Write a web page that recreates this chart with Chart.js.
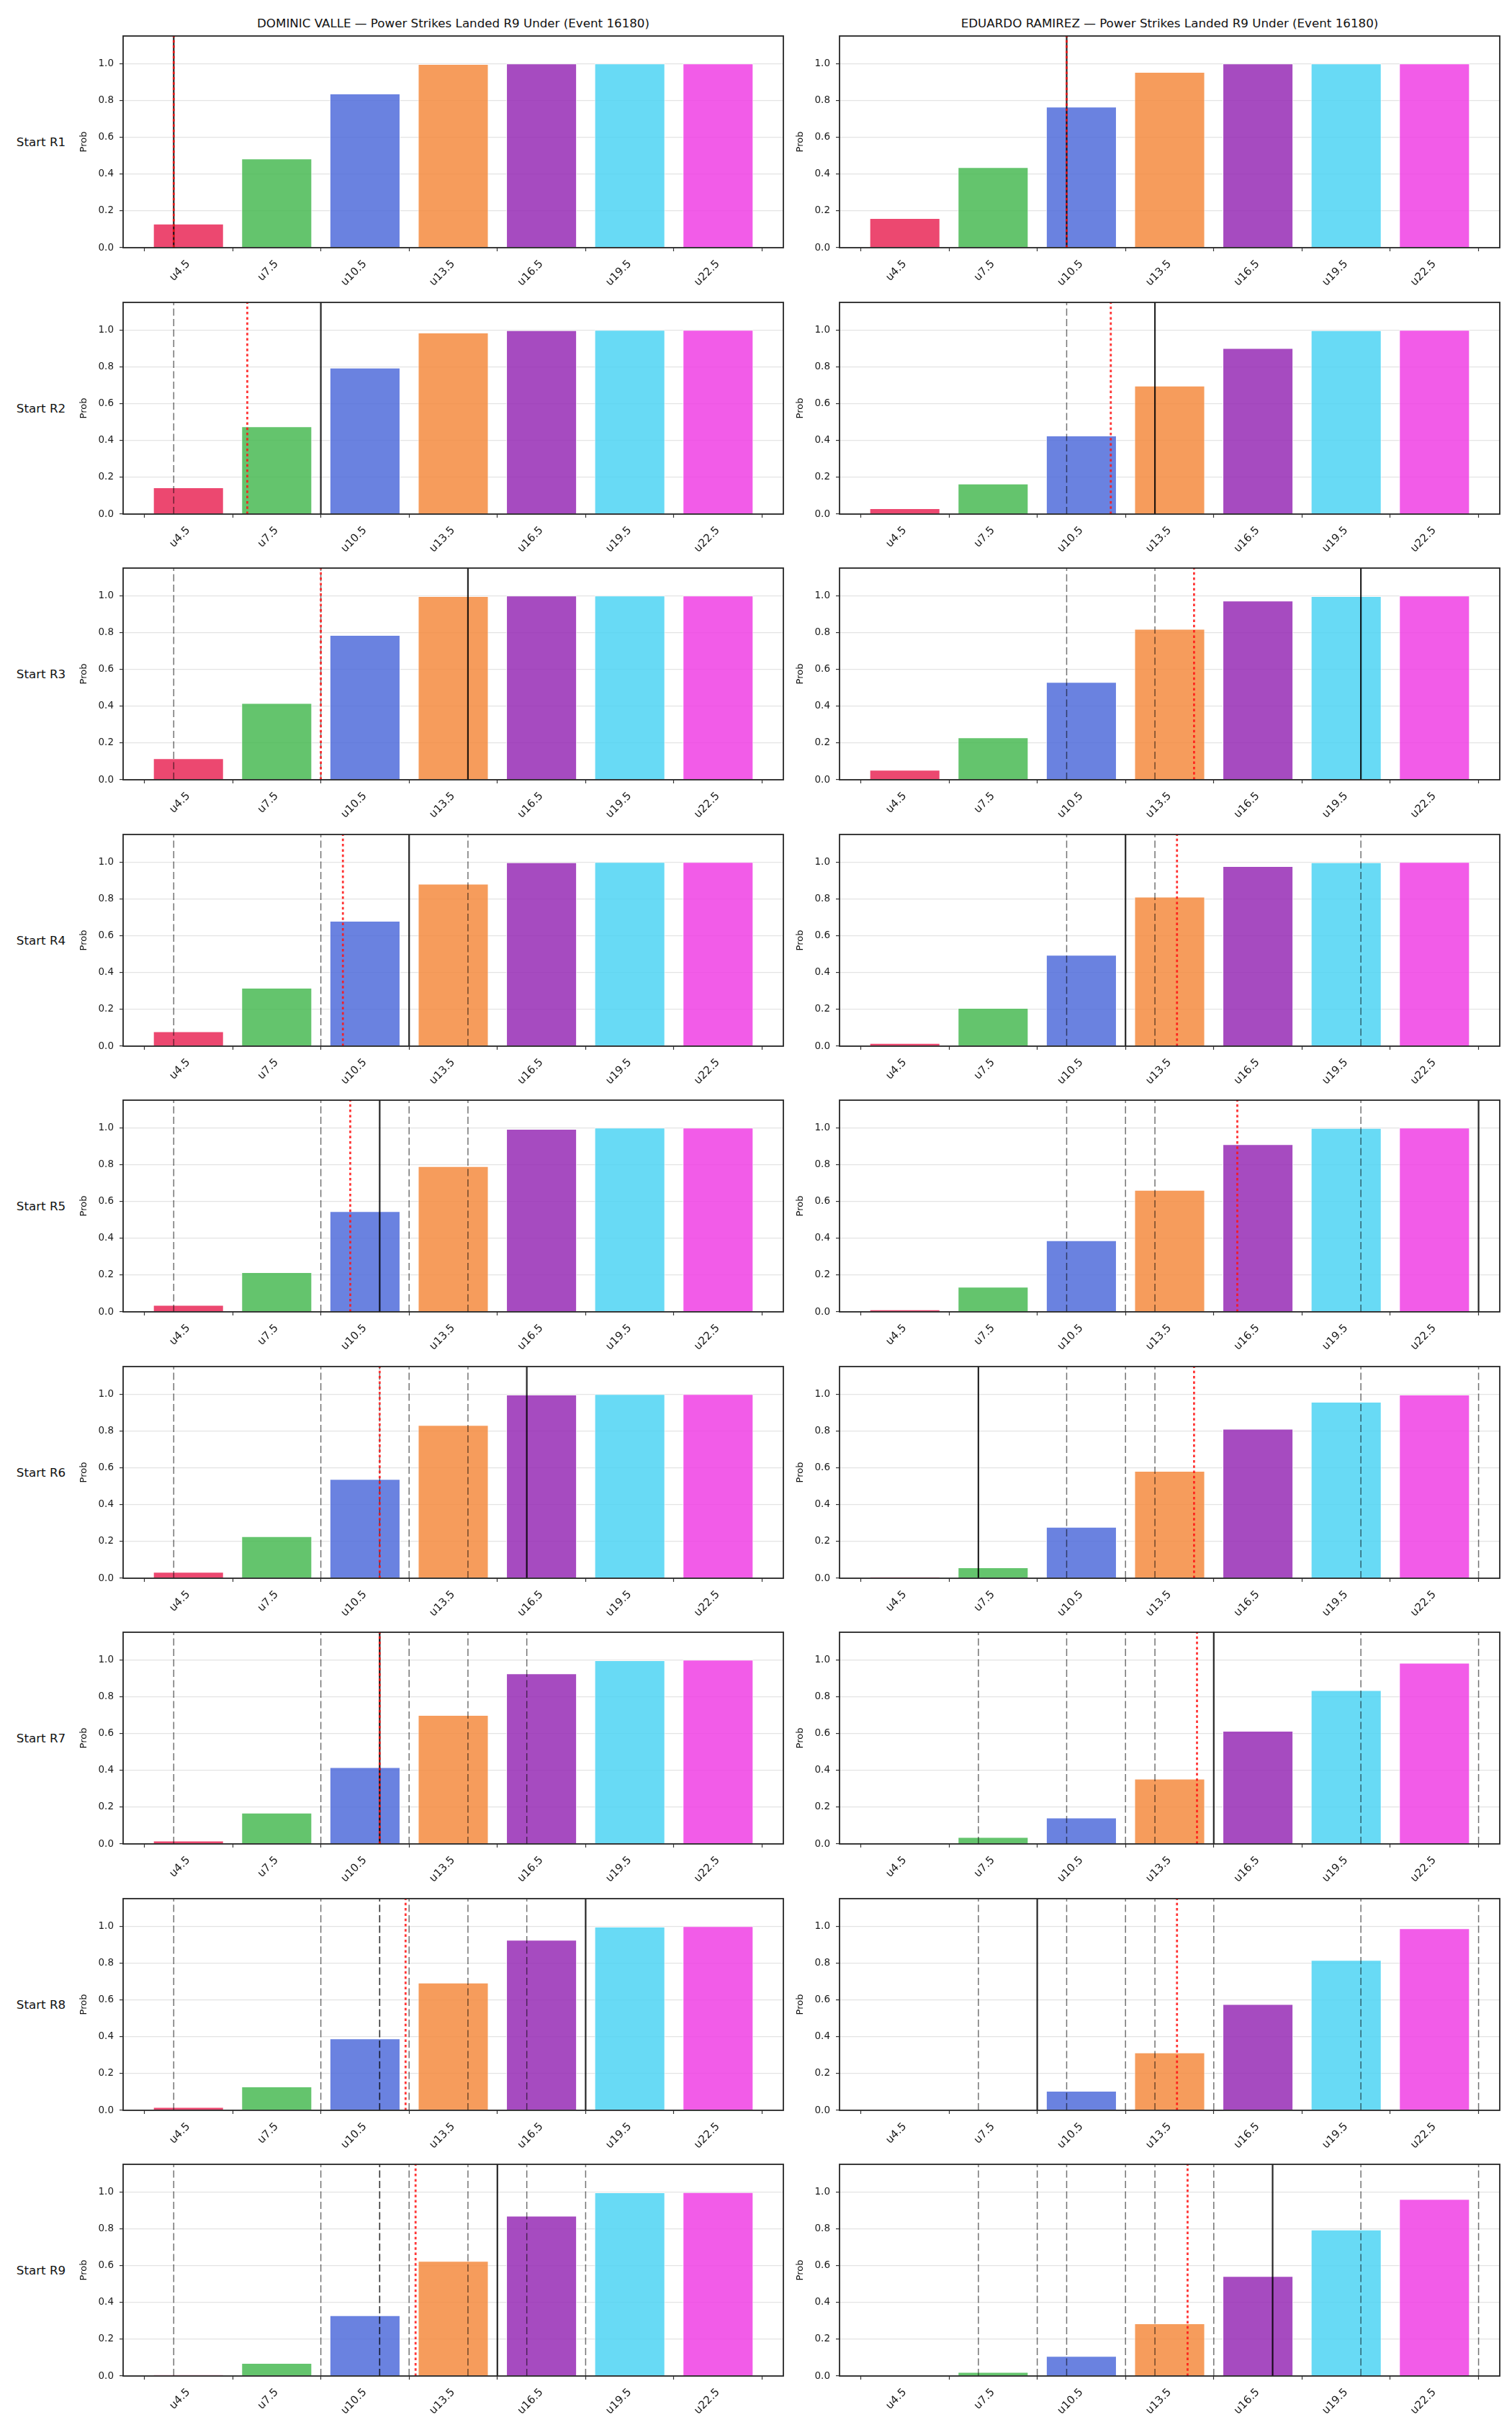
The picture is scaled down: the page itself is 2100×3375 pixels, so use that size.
<!DOCTYPE html>
<html>
<head>
<meta charset="utf-8">
<script src="https://cdn.jsdelivr.net/npm/chart.js@4.4.1/dist/chart.umd.min.js"></script>
<style>
  html, body { margin: 0; padding: 0; background: #fff; }
  #fig { position: relative; width: 2100px; height: 3375px; background: #fff; font-family: 'DejaVu Sans', sans-serif; color: #111; overflow: hidden; }
  #fig canvas { position: absolute; }
  .title, .rowlab { position: absolute; font-size: 16.7px; white-space: nowrap; transform: translate(-50%, -50%); }
</style>
</head>
<body>
<div id="fig"></div>
<script>
// --- data ---
const categories = ['u4.5', 'u7.5', 'u10.5', 'u13.5', 'u16.5', 'u19.5', 'u22.5'];
const strikes = [4.5, 7.5, 10.5, 13.5, 16.5, 19.5, 22.5];
const rounds = ['Start R1', 'Start R2', 'Start R3', 'Start R4', 'Start R5', 'Start R6', 'Start R7', 'Start R8', 'Start R9'];
const yTicks = [0, 0.2, 0.4, 0.6, 0.8, 1.0];

const titles = [
  'DOMINIC VALLE \u2014 Power Strikes Landed R9 Under (Event 16180)',
  'EDUARDO RAMIREZ \u2014 Power Strikes Landed R9 Under (Event 16180)'
];

// P(under) per round start, one row per round
const valleProb = [
  [0.13, 0.484, 0.837, 0.997, 1.0, 1.0, 1.0],
  [0.145, 0.476, 0.795, 0.986, 0.998, 1.0, 1.0],
  [0.116, 0.417, 0.786, 0.997, 1.0, 1.0, 1.0],
  [0.08, 0.317, 0.681, 0.882, 0.998, 1.0, 1.0],
  [0.037, 0.215, 0.547, 0.791, 0.994, 1.0, 1.0],
  [0.034, 0.228, 0.539, 0.832, 0.997, 1.0, 1.0],
  [0.018, 0.169, 0.417, 0.70, 0.926, 0.997, 1.0],
  [0.018, 0.129, 0.39, 0.693, 0.926, 0.997, 1.0],
  [0.007, 0.07, 0.33, 0.625, 0.87, 0.997, 0.998]
];
const ramirezProb = [
  [0.16, 0.437, 0.766, 0.954, 1.0, 1.0, 1.0],
  [0.031, 0.165, 0.426, 0.697, 0.902, 0.998, 1.0],
  [0.054, 0.23, 0.531, 0.819, 0.973, 0.997, 1.0],
  [0.017, 0.207, 0.496, 0.812, 0.978, 0.998, 1.0],
  [0.013, 0.136, 0.388, 0.662, 0.91, 0.998, 1.0],
  [0.007, 0.059, 0.279, 0.583, 0.812, 0.958, 0.997],
  [0.001, 0.037, 0.143, 0.354, 0.614, 0.835, 0.984],
  [0.0005, 0.005, 0.106, 0.314, 0.577, 0.817, 0.989],
  [0.0, 0.022, 0.109, 0.286, 0.543, 0.795, 0.961]
];

// solid black marker per round, and red dotted average
const valleMark = [4, 9, 14, 12, 11, 16, 11, 18, 15];
const valleAvg = [4, 6.5, 9, 9.75, 10, 11, 11, 11.88, 12.22];
const ramirezMark = [10, 13, 20, 12, 24, 7, 15, 9, 17];
const ramirezAvg = [10, 11.5, 14.33, 13.75, 15.8, 14.33, 14.43, 13.75, 14.11];

const barColors = [
  'rgba(233,40,87,0.85)', 'rgba(73,186,84,0.85)', 'rgba(80,108,219,0.85)',
  'rgba(244,139,63,0.85)', 'rgba(150,43,181,0.85)', 'rgba(77,211,243,0.85)',
  'rgba(240,63,228,0.85)'
];

// --- layout ---
const AX_LEFT = [171, 1166];
const AX_W = 917;
const AX_TOP0 = 50;
const ROW_STEP = 369.5;
const AX_H = 294;
const Y_AXIS_W = 90;
const X_AXIS_H = 75;
const PAD_TOP = 20;
const PAD_RIGHT = 14;
const X_MIN = 2.28, X_MAX = 24.72, Y_MAX = 1.15;
const FONT = "'DejaVu Sans', sans-serif";

Chart.defaults.font.family = FONT;

const fig = document.getElementById('fig');

const frame = {
  id: 'frame',
  afterDatasetsDraw(chart) {
    const { ctx, chartArea: a } = chart;
    ctx.save();
    ctx.strokeStyle = '#262626';
    ctx.lineWidth = 1.8;
    ctx.strokeRect(a.left, a.top, a.right - a.left, a.bottom - a.top);
    ctx.restore();
  }
};

const vline = (x, kind) => {
  const st = {
    past:  { color: 'rgba(0,0,0,0.55)', width: 1.5, dash: [10, 4.5], order: 3 },
    mark:  { color: 'rgba(0,0,0,0.85)', width: 2.2, dash: [], order: 2 },
    avg:   { color: 'rgba(255,20,20,0.85)', width: 2.8, dash: [3.5, 3.8], order: 1 }
  }[kind];
  return {
    type: 'line',
    data: [{ x: x, y: 0 }, { x: x, y: Y_MAX }],
    borderColor: st.color,
    borderWidth: st.width,
    borderDash: st.dash,
    pointRadius: 0,
    fill: false,
    order: st.order
  };
};

const makePanel = (col, row, probs, marks, avgs) => {
  const cv = document.createElement('canvas');
  const w = Y_AXIS_W + AX_W + PAD_RIGHT;
  const h = PAD_TOP + AX_H + X_AXIS_H;
  cv.width = w; cv.height = h;
  cv.style.width = w + 'px'; cv.style.height = h + 'px';
  cv.style.left = (AX_LEFT[col] - Y_AXIS_W) + 'px';
  cv.style.top = (AX_TOP0 + row * ROW_STEP - PAD_TOP) + 'px';
  fig.appendChild(cv);

  const datasets = [{
    type: 'bar',
    data: strikes.map((s, i) => ({ x: s, y: probs[row][i] })),
    backgroundColor: barColors,
    borderColor: 'rgba(255,255,255,0.9)',
    borderWidth: 1,
    barPercentage: 0.8,
    categoryPercentage: 1.0,
    order: 10
  }];
  // earlier rounds' markers as dashed lines
  marks.slice(0, row).forEach(m => datasets.push(vline(m, 'past')));
  datasets.push(vline(marks[row], 'mark'));
  datasets.push(vline(avgs[row], 'avg'));

  new Chart(cv, {
    type: 'bar',
    data: { datasets },
    options: {
      responsive: false,
      animation: false,
      devicePixelRatio: 1,
      layout: { padding: { top: PAD_TOP, right: PAD_RIGHT, left: 0, bottom: 0 } },
      plugins: { legend: { display: false }, tooltip: { enabled: false } },
      scales: {
        x: {
          type: 'linear', min: X_MIN, max: X_MAX, offset: false,
          afterBuildTicks: s => { s.ticks = strikes.map(v => ({ value: v })); },
          afterFit: s => { s.height = X_AXIS_H; },
          ticks: {
            autoSkip: false, minRotation: 45, maxRotation: 45, padding: 9,
            color: '#1a1a1a', font: { size: 15 },
            callback: (v, i) => categories[i]
          },
          grid: { drawOnChartArea: false, drawTicks: true, tickLength: 5, tickColor: '#333', tickWidth: 1.2 },
          border: { display: false }
        },
        y: {
          min: 0, max: Y_MAX,
          afterBuildTicks: s => { s.ticks = yTicks.map(v => ({ value: v })); },
          afterFit: s => { s.width = Y_AXIS_W; },
          ticks: { padding: 8, color: '#1a1a1a', font: { size: 13.5 }, callback: v => v.toFixed(1) },
          grid: { color: '#e4e4e4', lineWidth: 1.2, tickLength: 5, tickColor: '#333', tickWidth: 1.2 },
          border: { display: false },
          title: { display: true, text: 'Prob', color: '#111', font: { size: 13 }, padding: { top: 28, bottom: 0 } }
        }
      }
    },
    plugins: [frame]
  });
};

const addText = (cls, text, x, y) => {
  const d = document.createElement('div');
  d.className = cls;
  d.textContent = text;
  d.style.left = x + 'px';
  d.style.top = y + 'px';
  fig.appendChild(d);
};

titles.forEach((t, c) => addText('title', t, AX_LEFT[c] + AX_W / 2, 32));

rounds.forEach((r, i) => {
  addText('rowlab', r, 57, AX_TOP0 + i * ROW_STEP + AX_H / 2);
  makePanel(0, i, valleProb, valleMark, valleAvg);
  makePanel(1, i, ramirezProb, ramirezMark, ramirezAvg);
});
</script>
</body>
</html>
